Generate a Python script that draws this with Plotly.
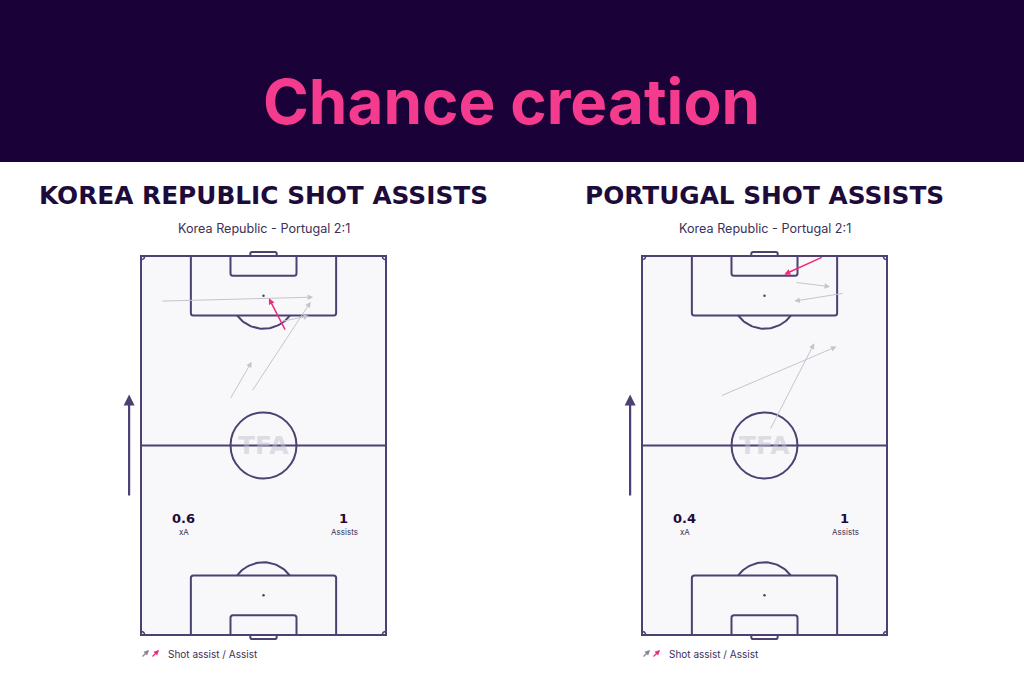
import numpy as np
import plotly.graph_objects as go

# ---------------- data ----------------
title_text = "Chance creation"
panel_titles = ["KOREA REPUBLIC SHOT ASSISTS", "PORTUGAL SHOT ASSISTS"]
match_label = "Korea Republic - Portugal 2:1"
xa_values = ["0.6", "0.4"]
assist_counts = ["1", "1"]

# arrows in pitch metres (x across 0-68, y along 0-105, attacking upward)
kor_x0 = [5.5, 40.2, 38.6, 30.7, 24.7]
kor_y0 = [92.5, 84.2, 86.8, 67.4, 65.3]
kor_x1 = [47.8, 35.5, 46.6, 47.1, 30.7]
kor_y1 = [93.6, 93.3, 88.4, 92.3, 75.7]
kor_kind = ["shot", "assist", "shot", "shot", "shot"]

por_x0 = [50.3, 42.5, 56.1, 21.8, 35.5]
por_y0 = [104.8, 97.7, 94.7, 66.2, 56.8]
por_x1 = [39.5, 52.2, 42.3, 54.0, 47.8]
por_y1 = [99.9, 96.5, 92.5, 79.9, 80.8]
por_kind = ["assist", "shot", "shot", "shot", "shot"]

# ---------------- style ----------------
W, H = 1024, 683
BANNER = "#1a0238"
PINK = "#f43b8e"
DARK = "#1d0c3b"
LINE = "#4d4072"
GRAY_ARROW = "#c6c3d0"
ASSIST_PINK = "#ee2a7b"
PITCH_FILL = "#f8f7fa"
FONT = "Inter"
WIDE = "DejaVu Sans"

fig = go.Figure()

pxm = 245 / 68.0
pym = 379 / 105.0
xr = [-5, 73]
yr = [-4, 109]
def xdom(left_px):
    a = left_px + xr[0] * pxm
    b = left_px + xr[1] * pxm
    return [a / W, b / W]
ydom = [1 - (635 - yr[0] * pym) / H, 1 - (635 - yr[1] * pym) / H]

ax_common = dict(showgrid=False, zeroline=False, showticklabels=False, ticks="", fixedrange=True, showline=False)
fig.update_layout(
    xaxis=dict(domain=xdom(141), range=xr, anchor="y", **ax_common),
    yaxis=dict(domain=ydom, range=yr, anchor="x", **ax_common),
    xaxis2=dict(domain=xdom(642), range=xr, anchor="y2", **ax_common),
    yaxis2=dict(domain=ydom, range=yr, anchor="x2", **ax_common),
)

shapes = []
annotations = []

def rounded_box(x0, x1, yb, yt, rounded_at, r=0.7):
    if rounded_at == yb:
        return (f"M {x0},{yt} L {x0},{yb + r} Q {x0},{yb} {x0 + r},{yb} "
                f"L {x1 - r},{yb} Q {x1},{yb} {x1},{yb + r} L {x1},{yt}")
    else:
        return (f"M {x0},{yb} L {x0},{yt - r} Q {x0},{yt} {x0 + r},{yt} "
                f"L {x1 - r},{yt} Q {x1},{yt} {x1},{yt - r} L {x1},{yb}")

def draw_pitch(xref, yref):
    ln = dict(color=LINE, width=2)
    shapes.append(dict(type="rect", xref=xref, yref=yref, x0=0, x1=68, y0=0, y1=105,
                       fillcolor=PITCH_FILL, line=ln, layer="below"))
    shapes.append(dict(type="line", xref=xref, yref=yref, x0=0, x1=68, y0=52.5, y1=52.5, line=ln))
    shapes.append(dict(type="circle", xref=xref, yref=yref, x0=34 - 9.15, x1=34 + 9.15,
                       y0=52.5 - 9.15, y1=52.5 + 9.15, line=ln))
    shapes.append(dict(type="path", xref=xref, yref=yref, path=rounded_box(13.84, 54.16, 88.5, 105, 88.5), line=ln))
    shapes.append(dict(type="path", xref=xref, yref=yref, path=rounded_box(24.84, 43.16, 99.5, 105, 99.5), line=ln))
    shapes.append(dict(type="path", xref=xref, yref=yref, path=rounded_box(30.34, 37.66, 105, 106.1, 106.1, r=0.5), line=ln))
    shapes.append(dict(type="path", xref=xref, yref=yref, path=rounded_box(13.84, 54.16, 0, 16.5, 16.5), line=ln))
    shapes.append(dict(type="path", xref=xref, yref=yref, path=rounded_box(24.84, 43.16, 0, 5.5, 5.5), line=ln))
    shapes.append(dict(type="path", xref=xref, yref=yref, path=rounded_box(30.34, 37.66, -1.1, 0, -1.1, r=0.5), line=ln))
    for (cx, cy, sx, sy) in [(0, 0, 1, 1), (68, 0, -1, 1), (0, 105, 1, -1), (68, 105, -1, -1)]:
        shapes.append(dict(type="path", xref=xref, yref=yref,
                           path=f"M {cx + sx},{cy} Q {cx + sx},{cy + sy} {cx},{cy + sy}",
                           line=dict(color=LINE, width=1.5)))

def arc_trace(xaxis, yaxis, cy, upward):
    half = np.degrees(np.arccos(5.5 / 9.15))
    if upward:
        ang = np.radians(np.linspace(90 - half, 90 + half, 40))
    else:
        ang = np.radians(np.linspace(-90 - half, -90 + half, 40))
    return go.Scatter(x=34 + 9.15 * np.cos(ang), y=cy + 9.15 * np.sin(ang), mode="lines",
                      line=dict(color=LINE, width=2), hoverinfo="skip", showlegend=False,
                      xaxis=xaxis, yaxis=yaxis)

for i, (xa, ya) in enumerate([("x", "y"), ("x2", "y2")]):
    draw_pitch(xa, ya)
    fig.add_trace(arc_trace(xa, ya, 94, False))
    fig.add_trace(arc_trace(xa, ya, 11, True))
    fig.add_trace(go.Scatter(x=[34, 34], y=[94, 11], mode="markers",
                             marker=dict(color=LINE, size=2.5), hoverinfo="skip",
                             showlegend=False, xaxis=xa, yaxis=ya))
    annotations.append(dict(xref=xa, yref=ya, x=34, y=52.5, text="<b>TFA</b>", showarrow=False,
                            font=dict(family=WIDE, size=25, color="rgba(195,193,205,0.5)")))
    annotations.append(dict(xref=xa, yref=ya, x=11.9, y=32.3, text="<b>" + xa_values[i] + "</b>",
                            showarrow=False, font=dict(family=WIDE, size=13, color=DARK)))
    annotations.append(dict(xref=xa, yref=ya, x=11.9, y=28.4, text="xA", showarrow=False,
                            font=dict(family=FONT, size=8, color="#3b3159")))
    annotations.append(dict(xref=xa, yref=ya, x=56.2, y=32.3, text="<b>" + assist_counts[i] + "</b>",
                            showarrow=False, font=dict(family=WIDE, size=13, color=DARK)))
    annotations.append(dict(xref=xa, yref=ya, x=56.4, y=28.4, text="Assists", showarrow=False,
                            font=dict(family=FONT, size=8, color="#3b3159")))
    annotations.append(dict(xref=xa, yref=ya, axref=xa, ayref=ya, x=-3.3, y=66.6, ax=-3.3, ay=38.2,
                            text="", showarrow=True, arrowhead=2, arrowsize=1.0, arrowwidth=2.2,
                            arrowcolor=LINE, standoff=0, startstandoff=0))

def add_arrows(xa, ya, x0s, y0s, x1s, y1s, kinds):
    for x0, y0, x1, y1, k in zip(x0s, y0s, x1s, y1s, kinds):
        pink = k == "assist"
        annotations.append(dict(xref=xa, yref=ya, axref=xa, ayref=ya, x=x1, y=y1, ax=x0, ay=y0,
                                text="", showarrow=True, arrowhead=2,
                                arrowsize=1.1 if not pink else 0.8,
                                arrowwidth=1 if not pink else 1.5,
                                arrowcolor=ASSIST_PINK if pink else GRAY_ARROW,
                                standoff=0, startstandoff=0))

add_arrows("x", "y", kor_x0, kor_y0, kor_x1, kor_y1, kor_kind)
add_arrows("x2", "y2", por_x0, por_y0, por_x1, por_y1, por_kind)

shapes.append(dict(type="rect", xref="paper", yref="paper", x0=0, x1=1, y0=1 - 162 / H, y1=1,
                   fillcolor=BANNER, line=dict(width=0), layer="below"))

def P(px, py):
    return px / W, 1 - py / H

bx, by = P(511, 101)
annotations.append(dict(xref="paper", yref="paper", x=bx, y=by, text="<b>" + title_text + "</b>",
                        showarrow=False, xanchor="center", yanchor="middle",
                        font=dict(family=FONT, size=62, color=PINK)))

for i, cx in enumerate([263.5, 764.5]):
    tx, ty = P(cx, 195)
    annotations.append(dict(xref="paper", yref="paper", x=tx, y=ty, text="<b>" + panel_titles[i] + "</b>",
                            showarrow=False, xanchor="center", yanchor="middle",
                            font=dict(family=WIDE, size=24.8, color=DARK)))
    sx, sy = P(cx, 228)
    annotations.append(dict(xref="paper", yref="paper", x=sx, y=sy, text=match_label,
                            showarrow=False, xanchor="center", yanchor="middle",
                            font=dict(family=FONT, size=12.6, color="#3b3159")))
    off = 0 if i == 0 else 501
    lx, ly = P(166 + off, 654)
    annotations.append(dict(xref="paper", yref="paper", x=lx, y=ly, text="Shot assist / Assist",
                            showarrow=False, xanchor="left", yanchor="middle",
                            font=dict(family=FONT, size=10, color="#3b3159")))
    gx, gy = P(149 + off, 650)
    annotations.append(dict(xref="paper", yref="paper", x=gx, y=gy, ax=-8, ay=8, text="",
                            showarrow=True, arrowhead=2, arrowsize=0.8, arrowwidth=1.3,
                            arrowcolor="#8a8596", standoff=0))
    qx, qy = P(159 + off, 650)
    annotations.append(dict(xref="paper", yref="paper", x=qx, y=qy, ax=-8, ay=8, text="",
                            showarrow=True, arrowhead=2, arrowsize=0.8, arrowwidth=1.3,
                            arrowcolor=ASSIST_PINK, standoff=0))

fig.update_layout(
    width=W, height=H, margin=dict(l=0, r=0, t=0, b=0),
    paper_bgcolor="white", plot_bgcolor="rgba(0,0,0,0)",
    shapes=shapes, annotations=annotations, showlegend=False,
)

fig.write_html("out.html", config={"displayModeBar": False},
               post_script="document.body.style.margin='0';document.body.style.overflow='hidden';")
